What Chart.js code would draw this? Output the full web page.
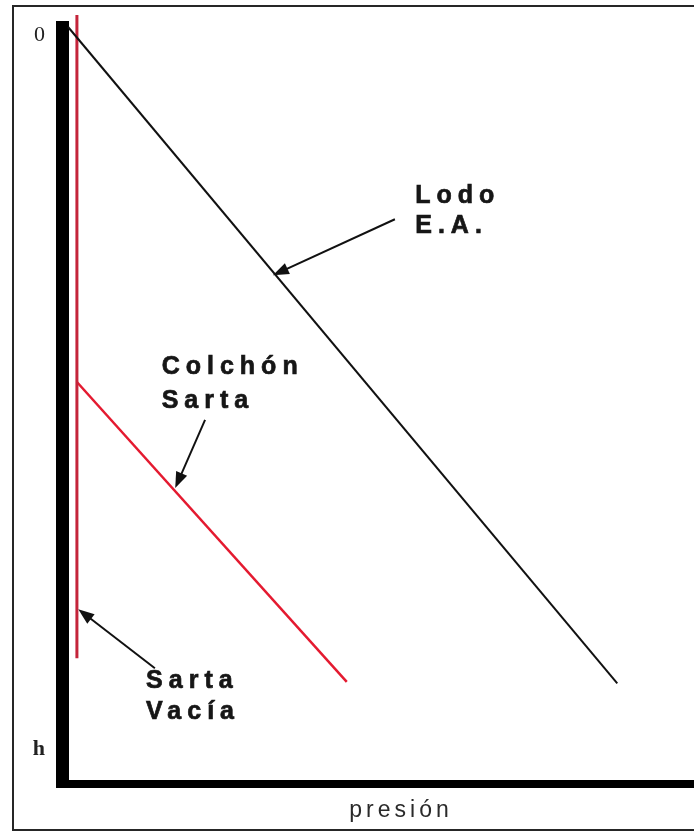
<!DOCTYPE html>
<html lang="es">
<head>
<meta charset="utf-8">
<title>Presión vs profundidad</title>
<script src="https://cdn.jsdelivr.net/npm/chart.js@4.4.1/dist/chart.umd.min.js"></script>
<style>
  html, body { margin: 0; padding: 0; background: #fff; overflow: hidden; }
  #wrap { position: relative; width: 694px; height: 832px; overflow: hidden; }
  #grafico { position: absolute; left: 0; top: 0; }
  .marco {
    position: absolute; left: 12px; top: 5px; width: 800px; height: 826px;
    box-sizing: border-box; border: 2px solid #262626; border-right: none;
    pointer-events: none;
  }
</style>
</head>
<body>
<div id="wrap">
  <canvas id="grafico" width="740" height="832"></canvas>
  <div class="marco"></div>
</div>
<script>
// ---------- datos (presión en x, profundidad en y, 0 arriba) ----------
const lodoPresion = [0.9, 81.9];
const lodoProf = [0, 86.7];

const sartaVaciaPresion = [2.2, 2.2];
const sartaVaciaProf = [-1.6, 83.4];

const colchonPresion = [2.2, 42.0];
const colchonProf = [46.9, 86.5];

const profTicks = [0, 94.3];
const profLabels = ["0", "h"];
const tituloX = "presión";

const toPoints = (xs, ys) => xs.map((v, i) => ({ x: v, y: ys[i] }));

// flechas y rótulos (en unidades de los ejes)
const flechas = [
  { from: [49.1, 25.4], to: [31.1, 32.8] },   // Lodo E.A.
  { from: [21.1, 51.9], to: [16.7, 60.9] },   // Colchón Sarta
  { from: [13.7, 84.7], to: [2.4, 76.9] }     // Sarta Vacía
];
const rotulos = [
  { text: "Lodo", at: [52.1, 23.3] },
  { text: "E.A.", at: [52.1, 27.2] },
  { text: "Colchón", at: [14.7, 45.8] },
  { text: "Sarta", at: [14.7, 50.3] },
  { text: "Sarta", at: [12.4, 87.3] },
  { text: "Vacía", at: [12.4, 91.4] }
];

const anotaciones = {
  id: "anotaciones",
  beforeDraw(chart) {
    chart.ctx.letterSpacing = "4px";
  },
  afterDatasetsDraw(chart) {
    const { ctx, scales: { x, y } } = chart;
    ctx.save();
    ctx.strokeStyle = "#111";
    ctx.fillStyle = "#111";
    ctx.lineWidth = 2;
    flechas.forEach(f => {
      const x1 = x.getPixelForValue(f.from[0]), y1 = y.getPixelForValue(f.from[1]);
      const x2 = x.getPixelForValue(f.to[0]), y2 = y.getPixelForValue(f.to[1]);
      const ang = Math.atan2(y2 - y1, x2 - x1);
      ctx.beginPath();
      ctx.moveTo(x1, y1);
      ctx.lineTo(x2 - 10 * Math.cos(ang), y2 - 10 * Math.sin(ang));
      ctx.stroke();
      // punta
      ctx.beginPath();
      ctx.moveTo(x2, y2);
      ctx.lineTo(x2 - 16 * Math.cos(ang) + 6 * Math.sin(ang), y2 - 16 * Math.sin(ang) - 6 * Math.cos(ang));
      ctx.lineTo(x2 - 16 * Math.cos(ang) - 6 * Math.sin(ang), y2 - 16 * Math.sin(ang) + 6 * Math.cos(ang));
      ctx.closePath();
      ctx.fill();
    });
    ctx.fillStyle = "#161616";
    ctx.strokeStyle = "#161616";
    ctx.lineWidth = 0.7;
    ctx.font = "bold 25px 'Liberation Sans', Arial, sans-serif";
    ctx.letterSpacing = "6px";
    ctx.textAlign = "left";
    ctx.textBaseline = "alphabetic";
    rotulos.forEach(r => {
      const px = x.getPixelForValue(r.at[0]), py = y.getPixelForValue(r.at[1]);
      ctx.fillText(r.text, px, py);
      ctx.strokeText(r.text, px, py);
    });
    ctx.restore();
  }
};

const ctx = document.getElementById("grafico");

new Chart(ctx, {
  type: "scatter",
  data: {
    datasets: [
      {
        label: "Lodo E.A.",
        data: toPoints(lodoPresion, lodoProf),
        showLine: true,
        borderColor: "#111",
        borderWidth: 2,
        pointRadius: 0,
        clip: false
      },
      {
        label: "Sarta Vacía",
        data: toPoints(sartaVaciaPresion, sartaVaciaProf),
        showLine: true,
        borderColor: "#c4243a",
        borderWidth: 3,
        pointRadius: 0,
        clip: false
      },
      {
        label: "Colchón Sarta",
        data: toPoints(colchonPresion, colchonProf),
        showLine: true,
        borderColor: "#e41a30",
        borderWidth: 2.5,
        pointRadius: 0,
        clip: false
      }
    ]
  },
  options: {
    responsive: false,
    animation: false,
    devicePixelRatio: 1,
    events: [],
    layout: { padding: { top: 27, left: 0, right: 0, bottom: 0 } },
    plugins: { legend: { display: false }, tooltip: { enabled: false } },
    scales: {
      x: {
        type: "linear",
        min: 0,
        max: 100,
        grid: { display: false, drawTicks: false },
        border: { display: true, width: 8, color: "#000" },
        ticks: { display: false },
        afterFit: s => { s.height = 48; },
        title: {
          display: true,
          text: tituloX,
          color: "#2a2a2a",
          font: { family: "'Liberation Sans', Arial, sans-serif", size: 23 },
          padding: { top: 0, bottom: 8 }
        }
      },
      y: {
        type: "linear",
        reverse: true,
        min: 0,
        max: 100,
        grid: { display: false, drawTicks: false, lineWidth: 8 },
        border: { display: true, width: 13, color: "#000" },
        afterBuildTicks: s => { s.ticks = profTicks.map(v => ({ value: v })); },
        afterFit: s => { s.width = 62; },
        ticks: {
          autoSkip: false,
          padding: 13,
          labelOffset: 8,
          color: "#222",
          font: c => ({ family: "'Liberation Serif', 'Times New Roman', serif", size: 22, weight: c.index === 1 ? "bold" : "normal" }),
          callback: (v, i) => profLabels[i]
        }
      }
    }
  },
  plugins: [anotaciones]
});
</script>
</body>
</html>
